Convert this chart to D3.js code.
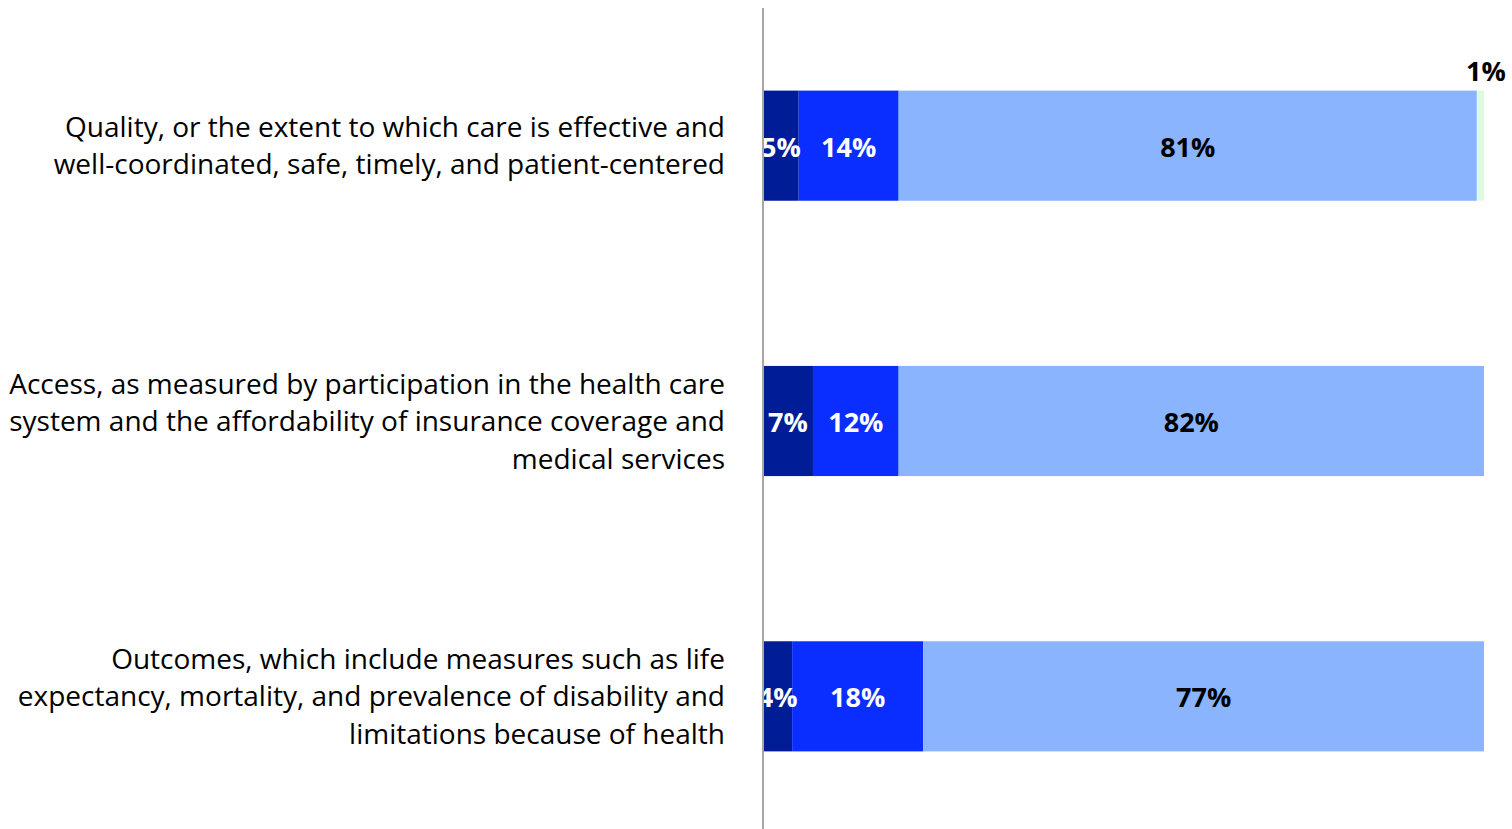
<!DOCTYPE html>
<html>
<head>
<meta charset="utf-8">
<script src="https://cdn.jsdelivr.net/npm/d3@7"></script>
<style>
  body { margin: 0; background: #fff; }
  svg { display: block; font-family: "Open Sans", Lato, sans-serif; }
</style>
</head>
<body>
<div id="chart"></div>
<script>
// Chart data
var categories = [
    ["Quality, or the extent to which care is effective and", "well-coordinated, safe, timely, and patient-centered"],
    ["Access, as measured by participation in the health care", "system and the affordability of insurance coverage and", "medical services"],
    ["Outcomes, which include measures such as life", "expectancy, mortality, and prevalence of disability and", "limitations because of health"]
];
var seriesNames = ["s1", "s2", "s3", "s4"];
var seriesColors = ["#001c96", "#0a2eff", "#8ab4fe", "#dcfadc"];
var labelColors = ["#fff", "#fff", "#000", "#000"];
var quality = [5, 14, 81, 1];
var access = [7, 12, 82, 0];
var outcomes = [4, 18, 77, 0];
var rows = [quality, access, outcomes];

// SVG area
var svgWidth = 1512;
var svgHeight = 829;
var chartMargin = { top: 8, right: 28, bottom: 0, left: 763 };
var chartWidth = svgWidth - chartMargin.left - chartMargin.right;
var chartHeight = svgHeight - chartMargin.top - chartMargin.bottom;

var svg = d3.select("#chart")
    .append("svg")
    .attr("width", svgWidth)
    .attr("height", svgHeight);

var chartGroup = svg.append("g")
    .attr("transform", `translate(${chartMargin.left}, ${chartMargin.top})`);

// scales
var yScale = d3.scaleBand()
    .domain(d3.range(rows.length))
    .range([0, 826])
    .paddingInner(0.6)
    .paddingOuter(0.3);

var xScale = d3.scaleLinear().domain([0, 1]).range([0, chartWidth]);

// build 100% stacked segments
var segments = [];
rows.forEach(function (row, i) {
    var total = d3.sum(row);
    var acc = 0;
    row.forEach(function (v, j) {
        if (v > 0) {
            segments.push({ row: i, series: j, value: v, x0: acc / total, x1: (acc + v) / total });
        }
        acc += v;
    });
});

svg.append("clipPath").attr("id", "plotClip")
    .append("rect")
    .attr("x", 0).attr("y", -10)
    .attr("width", chartWidth + 40).attr("height", chartHeight + 10);

var plot = chartGroup.append("g").attr("clip-path", "url(#plotClip)");

plot.selectAll("rect.seg")
    .data(segments)
    .enter()
    .append("rect")
    .attr("class", "seg")
    .attr("x", function (d) { return xScale(d.x0); })
    .attr("y", function (d) { return yScale(d.row); })
    .attr("width", function (d) { return xScale(d.x1) - xScale(d.x0); })
    .attr("height", yScale.bandwidth())
    .attr("fill", function (d) { return seriesColors[d.series]; });

// value labels
plot.selectAll("text.val")
    .data(segments)
    .enter()
    .append("text")
    .attr("class", "val")
    .attr("text-anchor", "middle")
    .attr("font-size", "27px")
    .attr("font-weight", "bold")
    .attr("fill", function (d) { return labelColors[d.series]; })
    .attr("x", function (d) {
        return d.series === 3 ? xScale(d.x1) + 2 : xScale((d.x0 + d.x1) / 2);
    })
    .attr("y", function (d) {
        return d.series === 3 ? yScale(d.row) - 10 : yScale(d.row) + yScale.bandwidth() / 2 + 11;
    })
    .text(function (d) { return d.value + "%"; });

// category labels
var lineHeight = 37.5;
categories.forEach(function (lines, i) {
    var cy = yScale(i) + yScale.bandwidth() / 2;
    var t = chartGroup.append("text")
        .attr("text-anchor", "end")
        .attr("font-size", "28px")
        .attr("fill", "#000");
    lines.forEach(function (line, k) {
        t.append("tspan")
            .attr("x", -38)
            .attr("y", cy + (k - (lines.length - 1) / 2) * lineHeight + 10)
            .text(line);
    });
});

// vertical axis line
chartGroup.append("line")
    .attr("x1", 0).attr("x2", 0)
    .attr("y1", 0).attr("y2", chartHeight)
    .attr("stroke", "#a6a6a6")
    .attr("stroke-width", 2);
</script>
</body>
</html>
